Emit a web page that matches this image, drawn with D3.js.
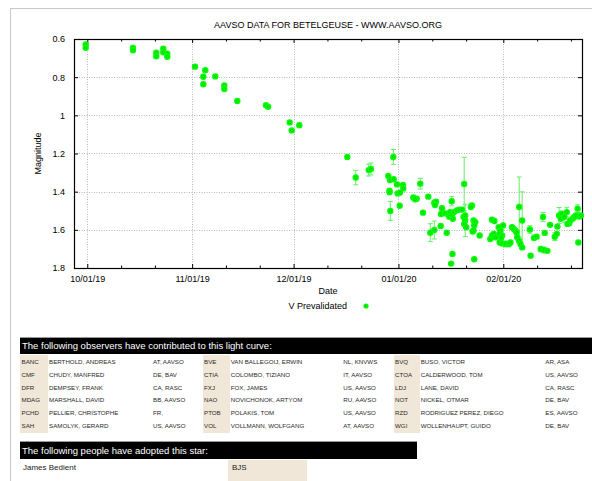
<!DOCTYPE html>
<html>
<head>
<meta charset="utf-8">
<script src="https://cdn.jsdelivr.net/npm/d3@7/dist/d3.min.js"></script>
<style>
html,body{margin:0;padding:0;background:#fff;}
svg{display:block;font-family:"Liberation Sans",Arial,sans-serif;}
</style>
</head>
<body>
<svg id="c" width="592" height="481"></svg>
<script>
// ---------- DATA ----------
const chartTitle = "AAVSO DATA FOR BETELGEUSE - WWW.AAVSO.ORG";
const yTicks = [0.6, 0.8, 1, 1.2, 1.4, 1.6, 1.8];
const xDomainJD = [2458753.57, 2458903.77];
const yDomain = [0.6, 1.8];
const seriesName = "V Prevalidated";

const obsJD = [
 2458757.03,2458757.03,2458771.01,2458771.01,2458777.90,2458777.90,2458779.97,2458779.97,2458781.15,2458781.15,
 2458789.35,2458791.80,2458791.80,2458792.39,2458795.35,2458798.01,2458798.01,2458801.85,2458810.34,2458810.93,
 2458817.35,2458817.94,2458820.18,2458834.38,2458836.86,2458840.71,2458841.38,2458847.98,2458846.50,2458847.00,
 2458848.10,2458846.86,2458846.86,2458847.09,2458849.07,2458849.28,2458849.96,2458850.85,2458850.94,2458849.87,
 2458855.96,2458853.89,2458854.90,2458854.40,2458856.76,2458858.33,2458860.10,2458860.61,2458860.31,2458858.92,
 2458860.10,2458861.99,2458862.38,2458862.08,2458863.27,2458864.24,2458864.54,2458863.77,2458865.25,2458864.75,
 2458865.25,2458865.57,2458865.96,2458866.76,2458867.55,2458868.23,2458868.94,2458868.74,2458869.24,2458868.94,
 2458869.53,2458869.24,2458871.22,2458870.92,2458871.72,2458872.20,2458871.90,2458871.72,2458871.43,2458873.50,
 2458865.46,2458865.07,2458871.90,2458877.16,2458877.87,2458876.66,2458877.16,2458877.67,2458878.17,2458879.14,
 2458879.65,2458879.44,2458880.15,2458879.85,2458880.44,2458879.44,2458880.15,2458881.12,2458882.13,2458882.63,
 2458883.10,2458883.61,2458884.11,2458884.41,2458884.61,2458885.12,2458885.59,2458886.09,2458885.20,2458886.09,
 2458888.37,2458889.58,2458890.35,2458888.58,2458891.56,2458892.54,2458893.55,2458892.24,2458892.74,2458894.31,
 2458895.73,2458896.32,2458896.50,2458897.00,2458897.71,2458897.51,2458898.51,2458899.28,2458899.99,2458899.49,
 2458900.29,2458901.00,2458901.47,2458901.97,2458902.48,2458902.98,2458903.45,2458902.68
];
const obsMag = [
 0.628,0.646,0.647,0.659,0.672,0.691,0.651,0.670,0.677,0.693,
 0.745,0.798,0.837,0.764,0.796,0.843,0.862,0.925,0.947,0.955,
 1.037,1.079,1.052,1.218,1.326,1.287,1.281,1.218,1.318,1.339,
 1.335,1.395,1.403,1.501,1.362,1.409,1.405,1.365,1.383,1.474,
 1.358,1.430,1.437,1.440,1.510,1.426,1.458,1.453,1.470,1.615,
 1.601,1.580,1.487,1.517,1.514,1.517,1.531,1.615,1.450,1.507,
 1.525,1.542,1.507,1.498,1.494,1.494,1.360,1.533,1.551,1.569,
 1.586,1.525,1.472,1.480,1.551,1.560,1.577,1.604,1.609,1.630,
 1.727,1.777,1.754,1.547,1.554,1.648,1.630,1.621,1.639,1.586,
 1.604,1.621,1.630,1.642,1.577,1.666,1.671,1.674,1.674,1.666,
 1.586,1.595,1.604,1.613,1.639,1.657,1.674,1.692,1.480,1.551,
 1.598,1.642,1.636,1.736,1.701,1.706,1.710,1.533,1.616,1.574,
 1.636,1.621,1.583,1.525,1.516,1.542,1.533,1.507,1.565,1.569,
 1.551,1.542,1.533,1.525,1.489,1.530,1.525,1.666
];
const obsErr = [
 0,0,0,0,0,0,0,0,0,0,
 0,0,0,0,0,0,0,0,0,0,
 0,0,0,0,0.038,0.031,0.031,0.039,0,0,
 0,0,0,0.049,0,0,0,0,0,0,
 0.028,0,0,0,0,0,0,0,0,0.047,
 0.047,0,0,0,0,0,0,0,0.024,0,
 0,0,0,0,0,0,0.14,0,0.085,0,
 0,0,0,0,0,0,0,0,0,0,
 0,0,0,0,0,0,0,0,0,0,
 0,0,0,0,0,0,0,0.015,0.015,0,
 0,0,0,0,0,0,0,0,0.157,0.15,
 0.02,0.015,0,0,0.015,0.015,0,0.024,0,0,
 0.02,0,0,0.042,0,0,0.03,0.025,0,0,
 0,0,0,0,0.02,0,0,0
];

const obsCodes = ["BANC","BVE","BVQ","CMF","CTIA","CTOA","DFR","FXJ","LDJ","MDAG","NAO","NOT","PCHD","PTOB","RZD","SAH","VOL","WGI"];
const obsNames = ["BERTHOLD, ANDREAS","VAN BALLEGOIJ, ERWIN","BUSO, VICTOR","CHUDY, MANFRED","COLOMBO, TIZIANO","CALDERWOOD, TOM",
 "DEMPSEY, FRANK","FOX, JAMES","LANE, DAVID","MARSHALL, DAVID","NOVICHONOK, ARTYOM","NICKEL, OTMAR",
 "PELLIER, CHRISTOPHE","POLAKIS, TOM","RODRIGUEZ PEREZ, DIEGO","SAMOLYK, GERARD","VOLLMANN, WOLFGANG","WOLLENHAUPT, GUIDO"];
const obsPlaces = ["AT, AAVSO","NL, KNVWS","AR, ASA","DE, BAV","IT, AAVSO","US, AAVSO","CA, RASC","US, AAVSO","CA, RASC",
 "BB, AAVSO","RU, AAVSO","DE, BAV","FR,","US, AAVSO","ES, AAVSO","US, AAVSO","AT, AAVSO","DE, BAV"];
const observersHeader = "The following observers have contributed to this light curve:";
const adoptHeader = "The following people have adopted this star:";
const adopterNames = ["James Bedient"];
const adopterCodes = ["BJS"];

// ---------- DRAW ----------
const jdToDate = jd => new Date((jd - 2440587.5) * 86400000);
const svg = d3.select("#c");
const M = {l:74, r:582, t:39, b:268};
const x = d3.scaleUtc().domain(xDomainJD.map(jdToDate)).range([M.l, M.r]);
const y = d3.scaleLinear().domain(yDomain).range([M.t, M.b]);

// page frame
svg.append("line").attr("x1",10).attr("x2",592).attr("y1",8.5).attr("y2",8.5).attr("stroke","#c8c8c8");
svg.append("line").attr("x1",10.5).attr("x2",10.5).attr("y1",8).attr("y2",481).attr("stroke","#c8c8c8");

// title
svg.append("text").attr("x",(M.l+M.r)/2).attr("y",28).attr("text-anchor","middle")
  .attr("font-size",9).attr("fill","#000").text(chartTitle);

const monthTicks = x.ticks(d3.utcMonth.every(1));
const minorTicks = d3.utcDay.range(x.domain()[0], x.domain()[1]).filter(d => d.getUTCDate()===11 || d.getUTCDate()===21);

// grid
const grid = svg.append("g").attr("stroke","#b8b8b8").attr("stroke-width",1).attr("stroke-dasharray","1,1.5");
grid.selectAll("line.gx").data(monthTicks).join("line")
  .attr("x1",d=>Math.round(x(d))+0.5).attr("x2",d=>Math.round(x(d))+0.5).attr("y1",M.t).attr("y2",M.b);
grid.selectAll("line.gy").data(yTicks.slice(1,-1)).join("line")
  .attr("y1",d=>Math.round(y(d))+0.5).attr("y2",d=>Math.round(y(d))+0.5).attr("x1",M.l).attr("x2",M.r);

// axes via d3 axis (inward ticks)
const fmt = d3.utcFormat("%m/%d/%y");
const xAxisB = d3.axisBottom(x).tickValues(monthTicks).tickFormat(fmt).tickSizeInner(-4).tickSizeOuter(0).tickPadding(8);
const xAxisT = d3.axisTop(x).tickValues(monthTicks).tickFormat("").tickSizeInner(-4).tickSizeOuter(0);
const xMinorB = d3.axisBottom(x).tickValues(minorTicks).tickFormat("").tickSizeInner(-2.5).tickSizeOuter(0);
const xMinorT = d3.axisTop(x).tickValues(minorTicks).tickFormat("").tickSizeInner(-2.5).tickSizeOuter(0);
const yAxisL = d3.axisLeft(y).tickValues(yTicks).tickFormat(d=>d3.format("")(d)).tickSizeInner(-4).tickSizeOuter(0).tickPadding(9);
const yAxisR = d3.axisRight(y).tickValues(yTicks).tickFormat("").tickSizeInner(-4).tickSizeOuter(0);

function styleAxis(g){
  g.select(".domain").remove();
  g.selectAll(".tick line").attr("stroke","#000");
  g.selectAll("text").attr("font-size",9).attr("fill","#000").attr("font-family","Liberation Sans, Arial, sans-serif");
}
svg.append("g").attr("transform",`translate(0,${M.b})`).call(xAxisB).call(styleAxis);
svg.append("g").attr("transform",`translate(0,${M.t})`).call(xAxisT).call(styleAxis);
svg.append("g").attr("transform",`translate(0,${M.b})`).call(xMinorB).call(styleAxis);
svg.append("g").attr("transform",`translate(0,${M.t})`).call(xMinorT).call(styleAxis);
svg.append("g").attr("transform",`translate(${M.l},0)`).call(yAxisL).call(styleAxis);
svg.append("g").attr("transform",`translate(${M.r},0)`).call(yAxisR).call(styleAxis);

// frame
svg.append("rect").attr("x",M.l+0.5).attr("y",M.t+0.5).attr("width",M.r-M.l).attr("height",M.b-M.t)
  .attr("fill","none").attr("stroke","#000").attr("stroke-width",1.2);

// axis labels
svg.append("text").attr("x",(M.l+M.r)/2).attr("y",294).attr("text-anchor","middle").attr("font-size",9).text("Date");
svg.append("text").attr("transform",`translate(41,${(M.t+M.b)/2}) rotate(-90)`).attr("text-anchor","middle").attr("font-size",9).text("Magnitude");

// data
const pts = obsJD.map((jd,i)=>({t:jdToDate(jd), m:obsMag[i], e:obsErr[i]}));
const plot = svg.append("g");
const eb = plot.append("g").attr("stroke","#66ee66").attr("stroke-width",1);
pts.filter(p=>p.e>0).forEach(p=>{
  const cx = x(p.t), y1 = y(p.m - p.e), y2 = y(p.m + p.e);
  eb.append("line").attr("x1",cx).attr("x2",cx).attr("y1",y1).attr("y2",y2);
  eb.append("line").attr("x1",cx-2.5).attr("x2",cx+2.5).attr("y1",y1).attr("y2",y1);
  eb.append("line").attr("x1",cx-2.5).attr("x2",cx+2.5).attr("y1",y2).attr("y2",y2);
});
function marker(sel, r){
  r = r || 3.2;
  sel.append("circle").attr("r",r).attr("fill","#00ff00");
  sel.append("circle").attr("r",r*0.4).attr("fill","none").attr("stroke","#22bb22").attr("stroke-width",0.7);
}
plot.selectAll("g.pt").data(pts).join("g").attr("class","pt")
  .attr("transform",p=>`translate(${x(p.t)},${y(p.m)})`).each(function(){ marker(d3.select(this)); });

// legend
svg.append("text").attr("x",347).attr("y",309).attr("text-anchor","end").attr("font-size",9).text(seriesName);
marker(svg.append("g").attr("transform","translate(366,306)"), 2.6);

// ---------- observer table ----------
const tbl = svg.append("g");
tbl.append("rect").attr("x",20).attr("y",337).attr("width",572).attr("height",17).attr("fill","#000");
tbl.append("line").attr("x1",20).attr("x2",592).attr("y1",337.5).attr("y2",337.5).attr("stroke","#999");
tbl.append("text").attr("x",22).attr("y",349).attr("font-size",9.5).attr("fill","#fff").text(observersHeader);

const colCode = [21.5, 204, 395], colName=[49, 230.7, 420.7], colLoc=[153, 343.3, 545.3], bgX=[[20,48],[203,230],[394,420]];
bgX.forEach(b=>tbl.append("rect").attr("x",b[0]).attr("y",355).attr("width",b[1]-b[0]).attr("height",78).attr("fill","#f1e7d8"));
obsCodes.forEach((c,i)=>{
  const r = Math.floor(i/3), k = i%3, yy = 361.7 + r*12.85 + 2.2;
  tbl.append("text").attr("x",colCode[k]).attr("y",yy).attr("font-size",6.2).attr("fill","#2a2a2a").text(c);
  tbl.append("text").attr("x",colName[k]).attr("y",yy).attr("font-size",6.2).attr("fill","#2a2a2a").text(obsNames[i]);
  tbl.append("text").attr("x",colLoc[k]).attr("y",yy).attr("font-size",6.2).attr("fill","#2a2a2a").text(obsPlaces[i]);
});

tbl.append("rect").attr("x",20).attr("y",441).attr("width",397).attr("height",18).attr("fill","#000");
tbl.append("line").attr("x1",20).attr("x2",417).attr("y1",441.5).attr("y2",441.5).attr("stroke","#999");
tbl.append("text").attr("x",22).attr("y",453.5).attr("font-size",9.5).attr("fill","#fff").text(adoptHeader);
adopterNames.forEach((n,i)=>{
  tbl.append("rect").attr("x",228).attr("y",460+i*19).attr("width",79).attr("height",21).attr("fill","#f1e7d8");
  tbl.append("text").attr("x",23).attr("y",470+i*19).attr("font-size",8).attr("fill","#222").text(n);
  tbl.append("text").attr("x",232).attr("y",470+i*19).attr("font-size",8).attr("fill","#222").text(adopterCodes[i]);
});
</script>
</body>
</html>
